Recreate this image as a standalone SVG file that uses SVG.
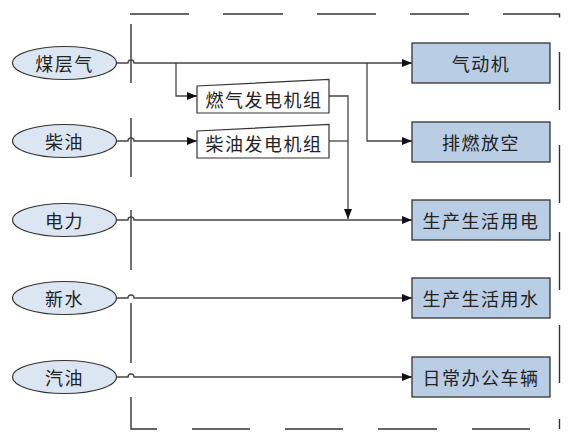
<svg xmlns="http://www.w3.org/2000/svg" width="573" height="444" viewBox="0 0 573 444">
<defs>
<style>
.bd{fill:none;stroke:#333;stroke-width:1.4}
.el{fill:#dce6f2;stroke:#333;stroke-width:1.1}
.bx{fill:#b9cde5;stroke:#333;stroke-width:1.3}
.gn{fill:#fff;stroke:#333;stroke-width:1.2}
.ln{fill:none;stroke:#444;stroke-width:1.3}
.t{font-family:"Noto Sans CJK SC","Noto Sans",sans-serif;font-size:18px;fill:#222;text-anchor:middle;dominant-baseline:central;letter-spacing:1.5px}
</style>
<marker id="ar" viewBox="0 0 10 8" refX="10" refY="4" markerWidth="10" markerHeight="8" markerUnits="userSpaceOnUse" orient="auto">
<path d="M0,0 L10,4 L0,8 z" fill="#111"/>
</marker>
</defs>
<rect width="573" height="444" fill="#fff"/>
<g id="border">
<path class="bd" d="M130,14H189M223,14H283M317,14H376M410,14H469M503,14H559.5V17.5M559.5,52V110M559.5,145V203M559.5,232V290M559.5,325V383M559.5,419V429M131,24V83M131,118V177M131,210V270M131,303V363M131,397V429H157M192,429H250M285,429H343M378,429H437M472,429H530"/>
</g>
<g id="connectors">
<path class="ln" d="M117,63H128a3,3 0 0 1 6,0H412" marker-end="url(#ar)"/>
<path class="ln" d="M176,63V96H197" marker-end="url(#ar)"/>
<path class="ln" d="M367,63V141H412" marker-end="url(#ar)"/>
<path class="ln" d="M117,141H128a3,3 0 0 1 6,0H197" marker-end="url(#ar)"/>
<path class="ln" d="M329,96H348V219" marker-end="url(#ar)"/>
<path class="ln" d="M329,141H348"/>
<path class="ln" d="M117,220H128a3,3 0 0 1 6,0H412" marker-end="url(#ar)"/>
<path class="ln" d="M117,298H128a3,3 0 0 1 6,0H412" marker-end="url(#ar)"/>
<path class="ln" d="M117,377H128a3,3 0 0 1 6,0H412" marker-end="url(#ar)"/>
</g>
<g id="n-meicengqi"><ellipse class="el" cx="64.5" cy="63" rx="52" ry="16.5"/><text class="t" x="64.5" y="63">煤层气</text></g>
<g id="n-chaiyou"><ellipse class="el" cx="64.5" cy="141" rx="52" ry="16.5"/><text class="t" x="64.5" y="141">柴油</text></g>
<g id="n-dianli"><ellipse class="el" cx="64.5" cy="220" rx="52" ry="16.5"/><text class="t" x="64.5" y="220">电力</text></g>
<g id="n-xinshui"><ellipse class="el" cx="64.5" cy="298" rx="52" ry="16.5"/><text class="t" x="64.5" y="298">新水</text></g>
<g id="n-qiyou"><ellipse class="el" cx="64.5" cy="377" rx="52" ry="16.5"/><text class="t" x="64.5" y="377">汽油</text></g>
<g id="n-ranqi-gen"><polygon class="gn" points="197,86 329,79.5 329,113 197,113"/><text class="t" x="264" y="99">燃气发电机组</text></g>
<g id="n-chaiyou-gen"><polygon class="gn" points="197,131 329,124.5 329,158 197,158"/><text class="t" x="264" y="143">柴油发电机组</text></g>
<g id="n-qidongji"><rect class="bx" x="412" y="43" width="138" height="40"/><text class="t" x="481" y="63">气动机</text></g>
<g id="n-paiheng"><rect class="bx" x="412" y="122" width="138" height="40"/><text class="t" x="481" y="142">排燃放空</text></g>
<g id="n-yongdian"><rect class="bx" x="412" y="200" width="138" height="40"/><text class="t" x="481" y="220">生产生活用电</text></g>
<g id="n-yongshui"><rect class="bx" x="412" y="278" width="138" height="40"/><text class="t" x="481" y="298">生产生活用水</text></g>
<g id="n-cheliang"><rect class="bx" x="412" y="357" width="138" height="40"/><text class="t" x="481" y="377">日常办公车辆</text></g>
</svg>
